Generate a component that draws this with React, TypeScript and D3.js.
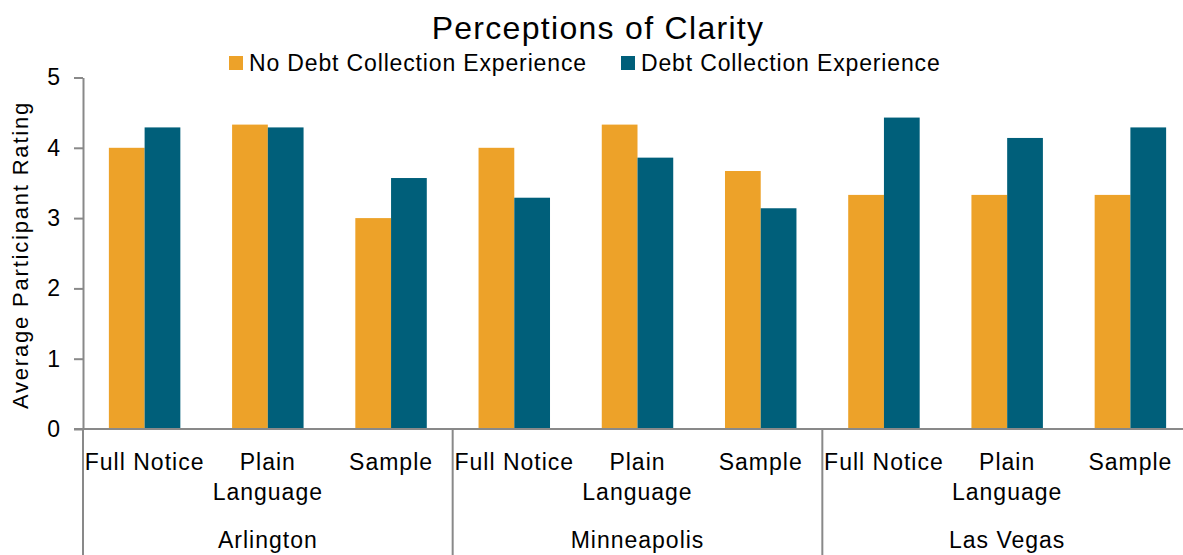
import React, { useEffect, useRef } from "react";
import * as d3 from "d3";

const cities = ["Arlington", "Minneapolis", "Las Vegas"];
const notices = ["Full Notice", "Plain Language", "Sample"];
const seriesNames = ["No Debt Collection Experience", "Debt Collection Experience"];
const seriesColors = ["#EDA229", "#005F7A"];

// per city, per notice type
const noExperience = [4.0, 4.33, 3.0, 4.0, 4.33, 3.67, 3.33, 3.33, 3.33];
const withExperience = [4.29, 4.29, 3.57, 3.29, 3.86, 3.14, 4.43, 4.14, 4.29];
const yTicks = [0, 1, 2, 3, 4, 5];

const W = 1183;
const H = 555;
const FONT = "'Liberation Sans', Arial, sans-serif";

export default function App() {
  const ref = useRef<SVGSVGElement>(null);

  useEffect(() => {
    const svg = d3.select(ref.current);
    svg.selectAll("*").remove();

    const left = 83;
    const plotTop = 77.5;
    const plotBottom = 429;

    const keys = cities.flatMap((c) => notices.map((n) => c + "|" + n));
    const x0 = d3.scaleBand().domain(keys).range([left, 1192]).padding(0);
    const x1 = d3
      .scaleBand()
      .domain(seriesNames)
      .range([x0.bandwidth() * 0.21, x0.bandwidth() * 0.79])
      .padding(0);
    const y = d3.scaleLinear().domain([0, 5]).range([plotBottom, plotTop]);

    const rows = keys.map((k, i) => ({ key: k, vals: [noExperience[i], withExperience[i]] }));

    // bars
    const g = svg.append("g");
    rows.forEach((r) => {
      r.vals.forEach((v, j) => {
        g.append("rect")
          .attr("x", x0(r.key)! + x1(seriesNames[j])!)
          .attr("y", y(v))
          .attr("width", x1.bandwidth())
          .attr("height", y(0) - y(v))
          .attr("fill", seriesColors[j]);
      });
    });

    // y axis
    const yAxis = svg
      .append("g")
      .attr("transform", `translate(${left},0)`)
      .call(
        d3.axisLeft(y).tickValues(yTicks).tickFormat(d3.format("d")).tickSize(9).tickSizeOuter(0).tickPadding(14)
      );
    yAxis.select(".domain").attr("stroke", "#898989").attr("stroke-width", 2);
    yAxis.selectAll(".tick line").attr("stroke", "#898989").attr("stroke-width", 2);
    yAxis
      .selectAll(".tick text")
      .attr("font-family", FONT)
      .attr("font-size", 23)
      .attr("fill", "#000");

    // x axis line
    svg.append("line")
      .attr("x1", left - 9).attr("x2", W)
      .attr("y1", y(0)).attr("y2", y(0))
      .attr("stroke", "#898989").attr("stroke-width", 2);

    // group separators
    cities.forEach((c) => {
      const gx = x0(c + "|" + notices[0])!;
      svg.append("line")
        .attr("x1", gx).attr("x2", gx)
        .attr("y1", y(0)).attr("y2", H)
        .attr("stroke", "#898989").attr("stroke-width", 2);
    });

    // category labels (wrap to band width)
    rows.forEach((r) => {
      const label = r.key.split("|")[1];
      const cx = x0(r.key)! + x0.bandwidth() / 2;
      const t = svg.append("text")
        .attr("x", cx).attr("y", 470)
        .attr("text-anchor", "middle")
        .attr("font-family", FONT).attr("font-size", 23)
        .attr("letter-spacing", 1)
        .text(label);
      const node = t.node() as SVGTextElement;
      if (node.getComputedTextLength() > x0.bandwidth()) {
        t.text(null);
        label.split(" ").forEach((w, i) => {
          t.append("tspan").attr("x", cx).attr("y", 470 + i * 30).text(w);
        });
      }
    });

    // city labels
    cities.forEach((c) => {
      const a = x0(c + "|" + notices[0])!;
      const b = x0(c + "|" + notices[notices.length - 1])! + x0.bandwidth();
      svg.append("text")
        .attr("x", (a + b) / 2).attr("y", 548)
        .attr("text-anchor", "middle")
        .attr("font-family", FONT).attr("font-size", 23)
        .attr("letter-spacing", 1)
        .text(c);
    });

    // y axis title
    svg.append("text")
      .attr("transform", `translate(28,255) rotate(-90)`)
      .attr("text-anchor", "middle")
      .attr("font-family", FONT).attr("font-size", 22)
      .attr("letter-spacing", 1.8)
      .text("Average Participant Rating");

    // title
    svg.append("text")
      .attr("x", 598).attr("y", 39)
      .attr("text-anchor", "middle")
      .attr("font-family", FONT).attr("font-size", 32)
      .attr("letter-spacing", 1.3)
      .text("Perceptions of Clarity");

    // legend
    const legendX = [229, 621];
    seriesNames.forEach((s, i) => {
      svg.append("rect")
        .attr("x", legendX[i]).attr("y", 56)
        .attr("width", 14).attr("height", 14)
        .attr("fill", seriesColors[i]);
      svg.append("text")
        .attr("x", legendX[i] + 20).attr("y", 71)
        .attr("font-family", FONT).attr("font-size", 23)
        .attr("letter-spacing", 0.85)
        .text(s);
    });
  }, []);

  return (
    <div style={{ position: "absolute", left: 0, top: 0 }}>
      <svg ref={ref} width={W} height={H} style={{ display: "block", background: "#fff" }} />
    </div>
  );
}
